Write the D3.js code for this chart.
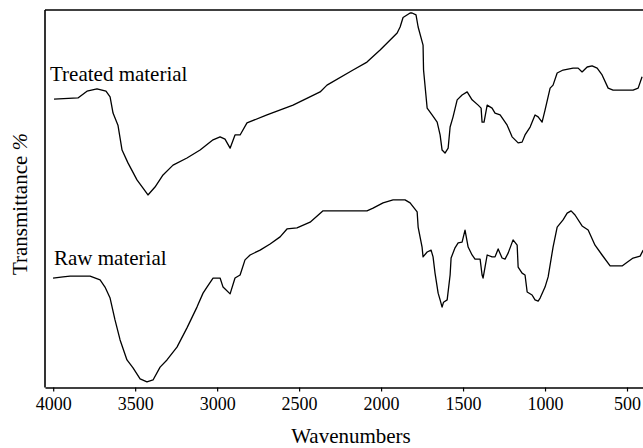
<!DOCTYPE html>
<html>
<head>
<meta charset="utf-8">
<script src="https://cdn.jsdelivr.net/npm/d3@7"></script>
<style>
  body { margin: 0; background: #fff; }
  svg text { font-family: "Liberation Serif", "Times New Roman", serif; fill: #000; }
</style>
</head>
<body>
<div id="chart"></div>
<script>
// Wavenumber (cm-1) and transmittance (arbitrary units)
const treatedWn = [3995, 3849, 3794, 3733, 3678, 3653, 3635, 3605, 3580, 3544, 3489, 3452, 3422, 3379, 3330, 3269, 3184, 3104,
  3025, 2982, 2952, 2921, 2891, 2860, 2818, 2696, 2537, 2372, 2330, 2171, 2086, 2006, 1902, 1884, 1866, 1823, 1811, 1787,
  1774, 1744, 1741, 1719, 1689, 1658, 1640, 1628, 1610, 1591, 1579, 1561, 1536, 1506, 1475, 1445, 1408, 1390, 1384, 1372,
  1353, 1323, 1305, 1274, 1231, 1201, 1164, 1140, 1122, 1091, 1061, 1042, 1018, 1000, 969, 951, 926, 890, 829, 798, 774,
  743, 713, 682, 652, 615, 585, 463, 432, 408];
const treatedT = [76.4, 76.7, 78.5, 79.1, 78.5, 77.0, 72.7, 69.5, 62.9, 59.5, 55.0, 52.8, 51.0, 53.1, 56.3, 58.9, 60.8, 62.9,
  65.6, 66.4, 65.8, 63.4, 66.9, 66.9, 70.1, 72.2, 74.8, 78.3, 80.1, 84.1, 86.2, 89.4, 93.9, 95.5, 98.0, 99.2, 99.2, 98.7,
  95.5, 90.7, 84.1, 74.0, 72.2, 70.3, 66.9, 62.9, 62.1, 63.4, 69.0, 71.7, 76.2, 77.5, 78.3, 76.2, 74.8, 74.0, 70.3, 70.3,
  74.8, 74.0, 72.7, 72.2, 69.5, 66.4, 64.8, 65.0, 66.9, 69.0, 72.2, 71.7, 70.3, 73.5, 79.3, 80.1, 83.3, 84.1, 84.6, 84.6, 83.6,
  84.9, 85.2, 84.6, 82.8, 79.3, 78.8, 78.8, 79.3, 82.3];

const rawWn = [4001, 3940, 3897, 3775, 3714, 3684, 3653, 3623, 3592, 3550, 3513, 3470, 3428, 3391, 3348, 3306, 3245, 3184,
  3123, 3086, 3062, 3025, 2982, 2964, 2921, 2891, 2860, 2830, 2799, 2738, 2677, 2616, 2574, 2513, 2433, 2354, 2086, 2049,
  1988, 1927, 1854, 1823, 1780, 1774, 1750, 1744, 1719, 1695, 1683, 1671, 1652, 1640, 1628, 1619, 1597, 1579, 1573, 1549,
  1530, 1506, 1488, 1469, 1445, 1427, 1396, 1384, 1378, 1366, 1353, 1323, 1305, 1286, 1262, 1244, 1225, 1195, 1170, 1164,
  1140, 1122, 1109, 1079, 1061, 1042, 1030, 1000, 981, 951, 926, 890, 865, 841, 817, 774, 737, 695, 652, 603, 530, 499, 463,
  420, 401];
const rawT = [29.0, 29.3, 29.5, 29.5, 28.5, 26.6, 23.7, 17.9, 12.6, 7.3, 5.2, 2.3, 1.5, 2.0, 5.4, 7.3, 10.7, 15.8,
  21.3, 25.0, 26.6, 29.0, 29.0, 26.6, 24.8, 29.0, 29.8, 33.8, 35.1, 36.4, 38.0, 39.9, 42.0, 42.3, 43.8, 46.8, 46.8, 47.5,
  48.9, 49.7, 49.7, 48.9, 46.5, 42.5, 37.2, 34.6, 35.9, 36.4, 34.6, 30.3, 25.0, 23.2, 21.3, 22.6, 23.2, 29.8, 34.3, 37.0,
  38.3, 38.5, 41.7, 37.2, 35.1, 34.0, 34.0, 29.8, 29.0, 31.9, 35.1, 34.6, 34.6, 36.7, 34.3, 34.0, 35.6, 39.1, 37.7, 31.9,
  30.3, 29.8, 25.3, 24.5, 23.2, 22.9, 23.7, 26.6, 29.3, 37.2, 42.5, 44.4, 46.2, 46.8, 45.7, 42.8, 41.7, 37.7, 35.1, 32.2, 32.2,
  33.2, 34.3, 34.8, 36.4];

const tickValues = [4000, 3500, 3000, 2500, 2000, 1500, 1000, 500];

const width = 643;
const height = 448;
const margin = { left: 45, top: 10, bottom: 387.5, right: 643.4 };

const svg = d3.select("#chart").append("svg")
  .attr("width", width)
  .attr("height", height);

const x = d3.scaleLinear().domain([4050, 400]).range([margin.left, margin.right]);
const y = d3.scaleLinear().domain([0, 100]).range([margin.bottom, margin.top]);

// curves
const line = d3.line()
  .x(d => x(d[0]))
  .y(d => y(d[1]));

const series = [
  { wn: treatedWn, t: treatedT },
  { wn: rawWn, t: rawT }
];

svg.selectAll("path.curve").data(series).join("path")
  .attr("class", "curve")
  .attr("d", s => line(s.wn.map((w, i) => [w, s.t[i]])))
  .attr("fill", "none")
  .attr("stroke", "#000")
  .attr("stroke-width", 1.3)
  .attr("stroke-linejoin", "round");

// axes
const xAxis = svg.append("g")
  .attr("transform", `translate(0,${margin.bottom})`)
  .call(d3.axisBottom(x).tickValues(tickValues).tickFormat(d3.format("d"))
    .tickSize(4).tickSizeOuter(0).tickPadding(6));
xAxis.select(".domain").attr("stroke-width", 1.6);
xAxis.selectAll(".tick line").attr("stroke-width", 1.2);
xAxis.selectAll(".tick text")
  .style("font-family", '"Liberation Serif", serif')
  .style("font-size", "18px");

svg.append("line")
  .attr("x1", margin.left).attr("x2", margin.left)
  .attr("y1", margin.top).attr("y2", margin.bottom)
  .attr("stroke", "#000").attr("stroke-width", 1.6);

svg.append("line")
  .attr("x1", margin.left).attr("x2", width)
  .attr("y1", margin.top).attr("y2", margin.top)
  .attr("stroke", "#000").attr("stroke-width", 1.6);

// labels
svg.append("text")
  .attr("x", 50).attr("y", 81)
  .style("font-size", "21px")
  .text("Treated material");

svg.append("text")
  .attr("x", 54).attr("y", 265)
  .style("font-size", "21px")
  .text("Raw material");

svg.append("text")
  .attr("x", 351).attr("y", 443)
  .attr("text-anchor", "middle")
  .style("font-size", "21px")
  .text("Wavenumbers");

const yLabel = svg.append("text")
  .attr("transform", "translate(27,204) rotate(-90)")
  .attr("text-anchor", "middle")
  .style("font-size", "21px");
yLabel.append("tspan").text("Transmittance ");
yLabel.append("tspan").style("font-style", "italic").text("%");
</script>
</body>
</html>
